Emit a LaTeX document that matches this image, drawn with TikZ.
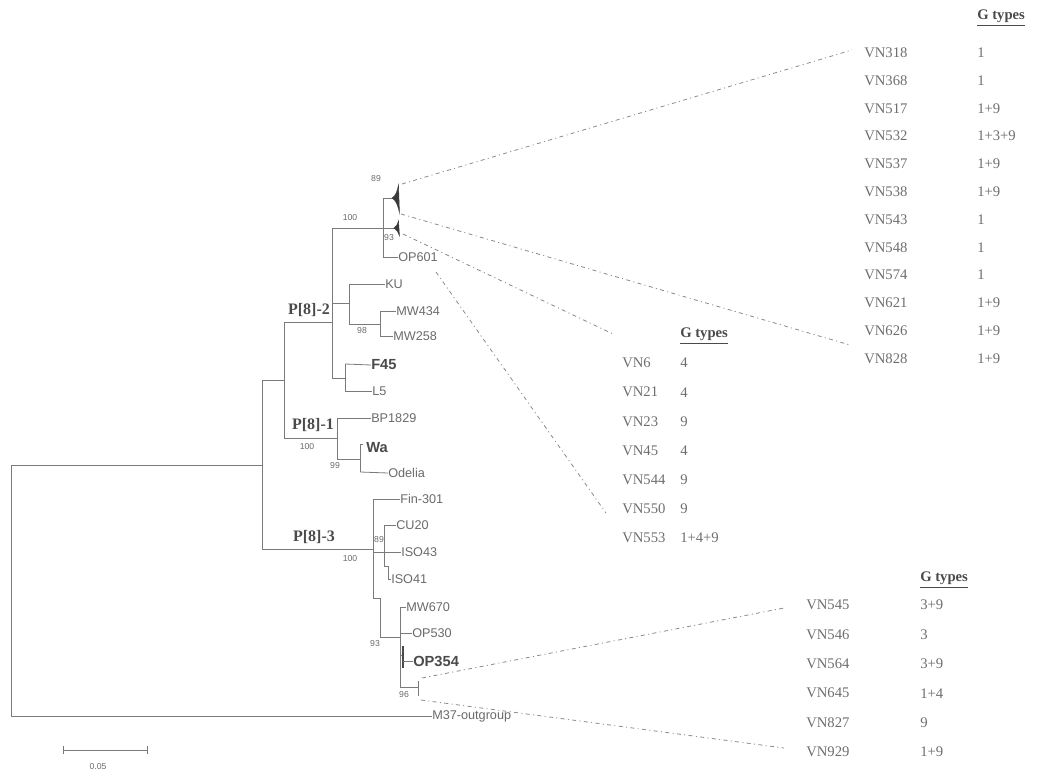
\documentclass[tikz,border=0pt]{standalone}
\usepackage{fontspec}
\setmainfont{Liberation Serif}
\setsansfont{Liberation Sans}
\definecolor{treecol}{HTML}{7A7A7A}
\definecolor{txtcol}{HTML}{6A6A6A}
\definecolor{boldcol}{HTML}{4A4A4A}
\definecolor{tabcol}{HTML}{6E6E6E}
\definecolor{linkcol}{HTML}{8A8A8A}
\definecolor{tricol}{HTML}{3A3A3A}
\begin{document}
\begin{tikzpicture}[x=0.75pt,y=-0.75pt,
 br/.style={draw=treecol, line width=0.6pt},
 leaf/.style={anchor=west,inner sep=0pt,font=\sffamily\fontsize{9.5}{11}\selectfont,text=txtcol},
 bleaf/.style={anchor=west,inner sep=0pt,font=\sffamily\bfseries\fontsize{11}{13}\selectfont,text=boldcol},
 boot/.style={inner sep=0pt,font=\sffamily\fontsize{6.5}{8}\selectfont,text=txtcol},
 clade/.style={inner sep=0pt,font=\rmfamily\bfseries\fontsize{12}{14}\selectfont,text=boldcol},
 tab/.style={anchor=west,inner sep=0pt,font=\rmfamily\fontsize{11}{13}\selectfont,text=tabcol},
 head/.style={anchor=west,inner sep=0pt,font=\rmfamily\bfseries\fontsize{11}{13}\selectfont,text=boldcol},
 link/.style={draw=linkcol, line width=0.6pt, dash pattern=on 3pt off 2.5pt on 0.8pt off 2.5pt},
 tri/.style={fill=tricol, draw=tricol, line width=0.3pt}]
\useasboundingbox (0,0) rectangle (1040,774);

% ---------- leaf labels ----------
\node[leaf] (op601) at (398,257) {OP601};
\node[leaf] (ku) at (385,284) {KU};
\node[leaf] (mw434) at (396,311) {MW434};
\node[leaf] (mw258) at (393,336) {MW258};
\node[bleaf] (f45) at (371,365) {F45};
\node[leaf] (l5) at (372,391) {L5};
\node[leaf] (bp1829) at (371,418) {BP1829};
\node[bleaf] (wa) at (366,448) {Wa};
\node[leaf] (odelia) at (388,473) {Odelia};
\node[leaf] (fin301) at (400,499) {Fin-301};
\node[leaf] (cu20) at (396,525) {CU20};
\node[leaf] (iso43) at (401,552) {ISO43};
\node[leaf] (iso41) at (391,579) {ISO41};
\node[leaf] (mw670) at (406,607) {MW670};
\node[leaf] (op530) at (412,633) {OP530};
\node[bleaf] (op354) at (413,661) {OP354};
\node[leaf] (m37) at (432,716) {M37-outgroup};

% ---------- clade labels ----------
\node[clade] (p82) at (309,310) {P[8]-2};
\node[clade] (p81) at (313,425) {P[8]-1};
\node[clade] (p83) at (314,537) {P[8]-3};

% ---------- bootstrap values ----------
\node[boot] (b89a) at (376,179) {89};
\node[boot] (b100a) at (350,218) {100};
\node[boot] (b93a) at (389,238) {93};
\node[boot] (b98) at (362,331) {98};
\node[boot] (b100b) at (307,447) {100};
\node[boot] (b99) at (335,466) {99};
\node[boot] (b89b) at (379,540) {89};
\node[boot] (b100c) at (350,559) {100};
\node[boot] (b93b) at (375,644) {93};
\node[boot] (b96) at (404,695) {96};

% ---------- tree branches ----------
% root
\draw[br] (11,465) -- (11,716) -- (m37.west);
\draw[br] (11,465) -- (262,465);
\draw[br] (262,380) -- (262,549);
\draw[br] (262,380) -- (284,380);
\draw[br] (262,549) -- (373,549);
% P[8]-1 / P[8]-2
\draw[br] (284,322) -- (284,438);
\draw[br] (284,322) -- (332,322);
\draw[br] (284,438) -- (337,438);
% P[8]-2 node
\draw[br] (332,228) -- (332,378);
\draw[br] (332,228) -- (383,228);
\draw[br] (332,303) -- (349,303);
\draw[br] (332,378) -- (345,378);
% node 100
\draw[br] (383,198) -- (383,257);
\draw[br] (383,198) -- (393,198);
\draw[br] (383,228) -- (395,228);
\draw[br] (383,257) -- (op601.west);
\draw[tri] (392,198) .. controls (396,196) and (397.5,190) .. (398.5,184.5)
   -- (399.5,213) .. controls (398,206) and (396,200) .. cycle;
\draw[tri] (394,228) .. controls (396.5,227) and (397.5,224) .. (398.5,220.5)
   -- (399.5,236) .. controls (398,232) and (396.5,229) .. cycle;
\coordinate (t1top) at (402,184);
\coordinate (t1bot) at (401,214);
\coordinate (t2bot) at (403,234);
\coordinate (op601b) at (436,272);
% KU / MW
\draw[br] (349,284) -- (349,324);
\draw[br] (349,284) -- (ku.west);
\draw[br] (349,324) -- (380,324);
\draw[br] (380,311) -- (380,336);
\draw[br] (380,311) -- (mw434.west);
\draw[br] (380,336) -- (mw258.west);
% F45 / L5
\draw[br] (345,364) -- (345,391);
\draw[br] (345,364) -- (f45.west);
\draw[br] (345,391) -- (l5.west);
% P[8]-1
\draw[br] (337,418) -- (337,459);
\draw[br] (337,418) -- (bp1829.west);
\draw[br] (337,459) -- (360,459);
\draw[br] (360,444) -- (360,472);
\draw[br] (360,444) -- (363,444);
\draw[br] (360,472) -- (odelia.west);
% P[8]-3
\draw[br] (373,499) -- (373,598);
\draw[br] (373,499) -- (fin301.west);
\draw[br] (373,552) -- (384,552);
\draw[br] (384,525) -- (384,566);
\draw[br] (384,525) -- (cu20.west);
\draw[br] (384,552) -- (iso43.west);
\draw[br] (384,566) -- (388,566) -- (388,579) -- (iso41.west);
\draw[br] (373,598) -- (380,598) -- (380,637) -- (400,637);
\draw[br] (400,607) -- (400,687);
\draw[br] (400,607) -- (mw670.west);
\draw[br] (400,633) -- (op530.west);
\draw[br] (400,655) -- (403,655);
\draw[draw=boldcol, line width=1.1pt] (403,646) -- (403,668);
\draw[br] (403,661) -- (op354.west);
\draw[br] (400,687) -- (418,687);
\draw[br] (418,681) -- (418,696);
\coordinate (brtop) at (422,678);
\coordinate (brbot) at (421,700);

% ---------- scale bar ----------
\coordinate (sb1) at (63,750);
\coordinate (sb2) at (147,750);
\draw[br] (sb1) -- (sb2);
\draw[br] (63,746) -- (63,754);
\draw[br] (147,746) -- (147,754);
\node[boot] (sblab) at (98,767) {0.05};

% ---------- top table ----------
\node[head] (h1) at (977,18) {\underline{G types}};
\foreach \n/\g [count=\i] in {VN318/1,VN368/1,VN517/1+9,VN532/1+3+9,VN537/1+9,VN538/1+9,VN543/1,VN548/1,VN574/1,VN621/1+9,VN626/1+9,VN828/1+9}{
  \node[tab] (ta\i) at (864,{52.7+27.8*(\i-1)}) {\n};
  \node[tab] (tg\i) at (977,{52.7+27.8*(\i-1)}) {\g};
}
% ---------- middle table ----------
\node[head] (h2) at (680,336) {\underline{G types}};
\foreach \n/\g [count=\i] in {VN6/4,VN21/4,VN23/9,VN45/4,VN544/9,VN550/9,VN553/1+4+9}{
  \node[tab] (ma\i) at (622,{363+29.2*(\i-1)}) {\n};
  \node[tab] (mg\i) at (680,{363+29.2*(\i-1)}) {\g};
}
% ---------- bottom table ----------
\node[head] (h3) at (920,580) {\underline{G types}};
\foreach \n/\g [count=\i] in {VN545/3+9,VN546/3,VN564/3+9,VN645/1+4,VN827/9,VN929/1+9}{
  \node[tab] (ba\i) at (806,{605+29.4*(\i-1)}) {\n};
  \node[tab] (bg\i) at (920,{605+29.4*(\i-1)}) {\g};
}

% ---------- dash-dot connectors ----------
\coordinate (e1) at (852,50);
\coordinate (e2) at (850,345);
\coordinate (e3) at (613,334);
\coordinate (e4) at (606,513);
\coordinate (e5) at (784,608);
\coordinate (e6) at (784,748);
\draw[link] (t1top) -- (e1);
\draw[link] (t1bot) -- (e2);
\draw[link] (t2bot) -- (e3);
\draw[link] (op601b) -- (e4);
\draw[link] (brtop) -- (e5);
\draw[link] (brbot) -- (e6);
\end{tikzpicture}
\end{document}
